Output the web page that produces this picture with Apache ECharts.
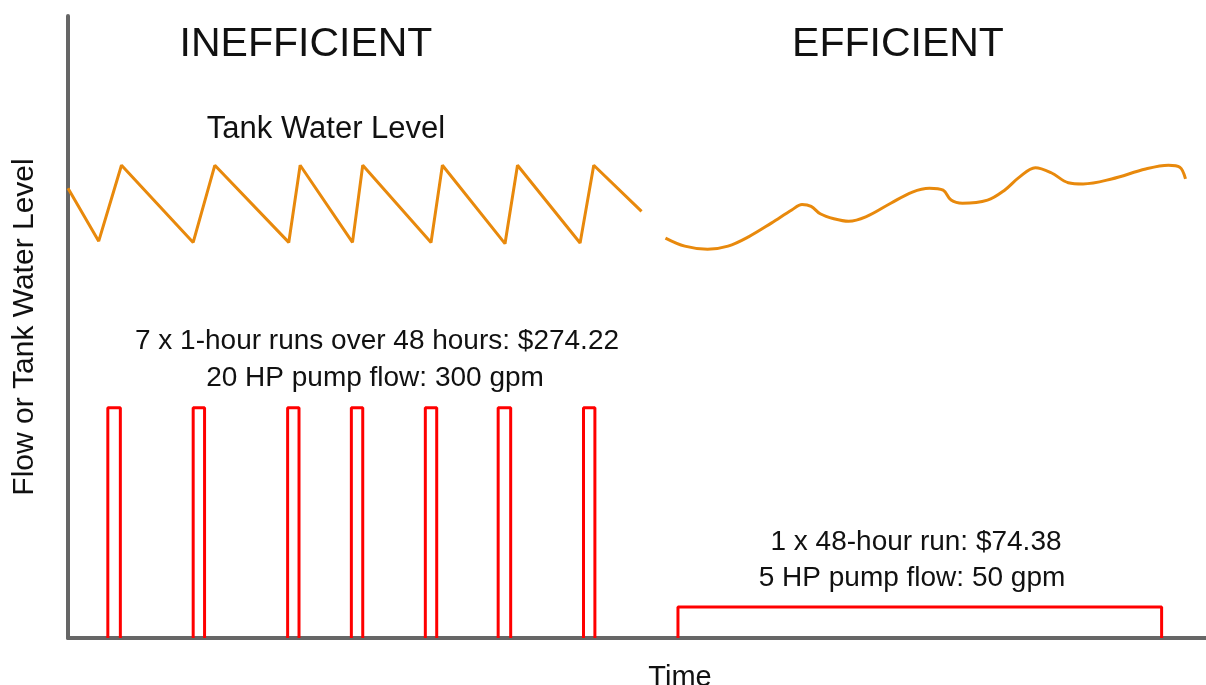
<!DOCTYPE html>
<html>
<head>
<meta charset="utf-8">
<title>Pump runs</title>
<script src="https://cdn.jsdelivr.net/npm/echarts@6.0.0/dist/echarts.min.js"></script>
<style>
	html, body { margin: 0; padding: 0; background: #fff; }
	#chart { width: 1206px; height: 685px; }
</style>
</head>
<body>
<div id="chart"></div>
<script>
	// time axis is arbitrary units 0..100, level/flow also 0..100
	var sawTime = [0, 2.7, 4.7, 11.0, 12.9, 19.4, 20.4, 25.0, 25.9, 31.9, 32.9, 38.4, 39.5, 45.0, 46.2, 50.4];
	var sawLevel = [72.3, 63.8, 76.0, 63.6, 76.0, 63.6, 76.0, 63.6, 76.0, 63.6, 76.0, 63.4, 76.0, 63.5, 76.0, 68.6];

	// smooth tank level for the efficient case
	var effTime = [52.5, 54.2, 56.2, 58.0, 59.8, 61.8, 63.6, 64.5, 65.3, 66.1, 67.3, 68.6, 70.1, 72.3, 74.2, 75.7, 76.9, 77.6, 78.6, 80.8, 82.3, 83.6, 85.0, 86.4, 87.9, 89.2, 91.7, 94.7, 96.7, 97.7, 98.2];
	var effLevel = [64.3, 63.0, 62.5, 63.0, 64.5, 66.7, 68.8, 69.7, 69.4, 68.2, 67.4, 67.0, 67.7, 69.9, 71.7, 72.3, 72.0, 70.4, 69.9, 70.4, 72.0, 74.1, 75.6, 74.8, 73.2, 73.0, 73.8, 75.4, 76.0, 75.7, 73.8];

	// 7 short pump runs (20 HP)
	var runStart = [3.5, 11.0, 19.3, 24.9, 31.4, 37.8, 45.3];
	var runEnd = [4.6, 12.0, 20.3, 25.9, 32.4, 38.9, 46.3];
	var runFlow = 37.0;

	// 1 long pump run (5 HP)
	var longStart = 53.6;
	var longEnd = 96.1;
	var longFlow = 5.0;

	var sawData = sawTime.map(function (t, i) { return [t, sawLevel[i]]; });
	var effData = effTime.map(function (t, i) { return [t, effLevel[i]]; });

	//方波, 每段之间用 '-' 断开
	var pulseData = [];
	runStart.forEach(function (s, i) {
		pulseData.push([s, 0], [s, runFlow], [runEnd[i], runFlow], [runEnd[i], 0], ['-', '-']);
	});
	var longData = [[longStart, 0], [longStart, longFlow], [longEnd, longFlow], [longEnd, 0]];

	var font = '"Liberation Sans", Arial, sans-serif';
	function label(text, x, y, size) {
		return {
			type: 'text',
			style: {
				text: text, x: x, y: y, fill: '#111',
				font: size + 'px ' + font,
				align: 'center', verticalAlign: 'middle'
			}
		};
	}

	var option = {
		animation: false,
		grid: { left: 68, right: 0, top: 16, bottom: 47, outerBoundsMode: 'none', containLabel: false },
		xAxis: {
			type: 'value', min: 0, max: 100,
			name: 'Time', nameLocation: 'middle', nameGap: 25,
			nameTextStyle: { fontFamily: font, fontSize: 29, color: '#111', padding: [0, 0, 0, 86] },
			axisLine: { show: true, lineStyle: { color: '#666', width: 4 } },
			axisTick: { show: false }, axisLabel: { show: false }, splitLine: { show: false }
		},
		yAxis: {
			type: 'value', min: 0, max: 100,
			name: 'Flow or Tank Water Level', nameLocation: 'middle', nameGap: 28,
			nameTextStyle: { fontFamily: font, fontSize: 30, color: '#111' },
			axisLine: { show: true, lineStyle: { color: '#666', width: 4 } },
			axisTick: { show: false }, axisLabel: { show: false }, splitLine: { show: false }
		},
		graphic: [
			label('INEFFICIENT', 306, 45, 41),
			label('EFFICIENT', 898, 45, 41),
			label('Tank Water Level', 326, 129, 31),
			label('7 x 1-hour runs over 48 hours: $274.22', 377, 341, 28),
			label('20 HP pump flow: 300 gpm', 375, 378, 28),
			label('1 x 48-hour run: $74.38', 916, 542, 28),
			label('5 HP pump flow: 50 gpm', 912, 578, 28)
		],
		series: [
			{
				type: 'line', data: sawData, symbol: 'none',
				lineStyle: { color: '#E8890C', width: 3 }
			},
			{
				type: 'line', data: effData, symbol: 'none', smooth: 0.35,
				lineStyle: { color: '#E8890C', width: 3 }
			},
			{
				type: 'line', data: pulseData, symbol: 'none', connectNulls: false,
				lineStyle: { color: '#FF0000', width: 3 }
			},
			{
				type: 'line', data: longData, symbol: 'none',
				lineStyle: { color: '#FF0000', width: 3 }
			}
		]
	};

	echarts.init(document.getElementById('chart')).setOption(option);
</script>
</body>
</html>
